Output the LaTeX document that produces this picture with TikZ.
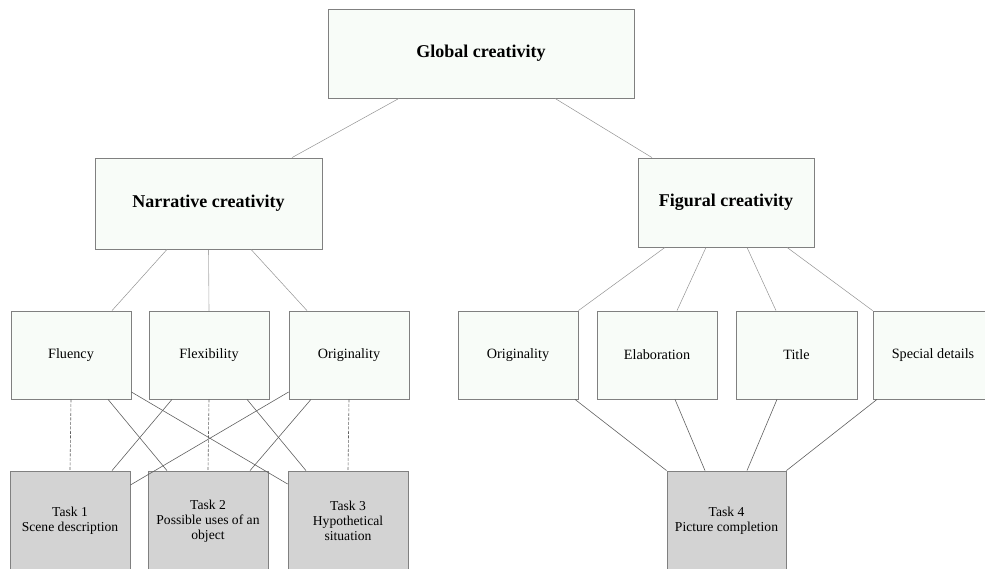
\documentclass[tikz,border=0pt]{standalone}
\usepackage{fontspec}
\setmainfont{Liberation Serif}
\definecolor{boxfill}{HTML}{F8FCF8}
\definecolor{taskfill}{HTML}{D3D3D3}
\definecolor{edgecol}{HTML}{808080}
\definecolor{linecol}{HTML}{606060}
\begin{document}
\begin{tikzpicture}[x=1pt,y=-1pt,
  lvlbox/.style={draw=edgecol, line width=0.8pt, fill=boxfill, inner sep=0pt, align=center},
  topbox/.style={lvlbox, font=\fontsize{18}{20}\selectfont\bfseries},
  subbox/.style={lvlbox, minimum width=120pt, minimum height=88pt, font=\fontsize{14.2}{16}\selectfont},
  taskbox/.style={draw=edgecol, line width=0.8pt, fill=taskfill, inner sep=0pt, align=center,
     minimum height=100pt, font=\fontsize{13.6}{15}\selectfont},
  link/.style={draw=linecol, line width=0.6pt},
  thinlink/.style={draw=gray!85, line width=0.5pt},
  dashlink/.style={draw=linecol, line width=0.6pt, dash pattern=on 3pt off 1.5pt},
  dotlink/.style={draw=gray, line width=0.6pt, dash pattern=on 1.2pt off 0.8pt}]
\useasboundingbox (0,0) rectangle (985,569);
\clip (0,0) rectangle (985,569);

% top levels
\node[topbox, minimum width=306pt, minimum height=89pt] (glob) at (481,53.5) {Global creativity};
\node[topbox, minimum width=227pt, minimum height=91pt] (nar) at (208.5,203.5) {Narrative creativity};
\node[topbox, minimum width=176pt, minimum height=89pt] (fig) at (726,202.5) {Figural creativity};

% dimensions
\node[subbox] (flu) at (71,355) {Fluency};
\node[subbox] (flx) at (209,355) {Flexibility};
\node[subbox] (ori) at (349,355) {Originality};
\node[subbox] (orr) at (518,355) {Originality};
\node[subbox] (ela) at (657,355) {Elaboration};
\node[subbox, minimum width=121pt] (tit) at (796.5,355) {Title};
\node[subbox] (spe) at (933,355) {Special details};

% tasks
\node[taskbox, minimum width=120pt] (t1) at (70,521) {Task 1\\Scene description};
\node[taskbox, minimum width=120pt] (t2) at (208,521) {Task 2\\Possible uses of an\\object};
\node[taskbox, minimum width=120pt] (t3) at (348,521) {Task 3\\Hypothetical\\situation};
\node[taskbox, minimum width=119pt] (t4) at (726.5,521) {Task 4\\Picture completion};

% global links
\draw[thinlink] ([xshift=-82pt]glob.south) -- ([xshift=83.5pt]nar.north);
\draw[thinlink] ([xshift=74pt]glob.south) -- ([xshift=-74pt]fig.north);

% narrative links
\draw[thinlink] ([xshift=-41.5pt]nar.south) -- ([xshift=41pt]flu.north);
\draw[dotlink] (nar.south) -- (flx.north);
\draw[thinlink] ([xshift=42.5pt]nar.south) -- ([xshift=-42pt]ori.north);

% figural links
\draw[thinlink] ([xshift=-61pt]fig.south) -- (orr.north east);
\draw[thinlink] ([xshift=-20pt]fig.south) -- ([xshift=20pt]ela.north);
\draw[thinlink] ([xshift=21pt]fig.south) -- ([xshift=-20.5pt]tit.north);
\draw[thinlink] ([xshift=61pt]fig.south) -- (spe.north west);

% narrative dimensions to tasks
\draw[dashlink] (flu.south) -- (t1.north);
\draw[dashlink] (flx.south) -- (t2.north);
\draw[dashlink] (ori.south) -- (t3.north);
\draw[link] ([xshift=37pt]flu.south) -- ([xshift=-41pt]t2.north);
\draw[link] ([yshift=-37pt]flu.east) -- ([yshift=37pt]t3.west);
\draw[link] ([xshift=-37pt]flx.south) -- ([xshift=42pt]t1.north);
\draw[link] ([xshift=38pt]flx.south) -- ([xshift=-42pt]t3.north);
\draw[link] ([yshift=-37pt]ori.west) -- ([yshift=36pt]t1.east);
\draw[link] ([xshift=-38pt]ori.south) -- ([xshift=42pt]t2.north);

% figural dimensions to task 4
\draw[link] ([xshift=57pt]orr.south) -- (t4.north west);
\draw[link] ([xshift=18pt]ela.south) -- ([xshift=-21.5pt]t4.north);
\draw[link] ([xshift=-19.5pt]tit.south) -- ([xshift=20.5pt]t4.north);
\draw[link] ([xshift=-56pt]spe.south) -- (t4.north east);
\end{tikzpicture}
\end{document}
